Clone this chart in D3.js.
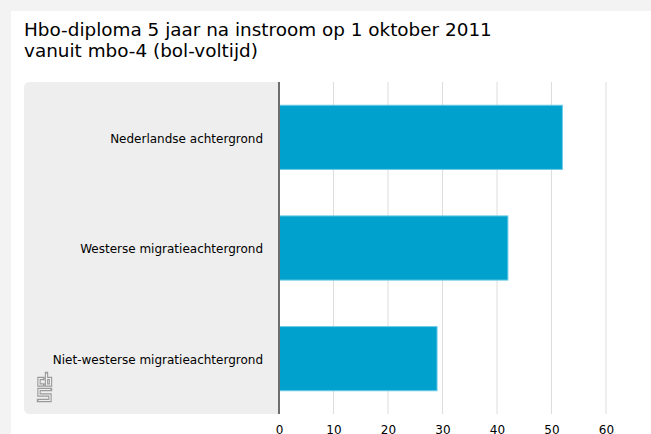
<!DOCTYPE html>
<html>
<head>
<meta charset="utf-8">
<script src="https://cdn.jsdelivr.net/npm/d3@7.9.0/dist/d3.min.js"></script>
<style>
  html, body { margin: 0; padding: 0; background: #f3f3f3; }
  svg { display: block; font-family: "DejaVu Sans", sans-serif; }
</style>
</head>
<body>
<svg id="chart" width="651" height="434"></svg>
<script>
const titleLines = ['Hbo-diploma 5 jaar na instroom op 1 oktober 2011', 'vanuit mbo-4 (bol-voltijd)'];
const categories = ['Nederlandse achtergrond', 'Westerse migratieachtergrond', 'Niet-westerse migratieachtergrond'];
const values = [52, 42, 29];
const tickValues = [0, 10, 20, 30, 40, 50, 60];

const svg = d3.select('#chart');

// white card
svg.append('rect')
  .attr('x', 11).attr('y', 11)
  .attr('width', 651).attr('height', 434)
  .attr('fill', '#ffffff');

svg.append('text')
  .attr('x', 24).attr('y', 36)
  .attr('font-size', 18.4)
  .attr('fill', '#000')
  .selectAll('tspan')
  .data(titleLines)
  .join('tspan')
  .attr('x', 24)
  .attr('dy', (d, i) => i === 0 ? 0 : 21)
  .text(d => d);

const plotLeft = 279, plotRight = 606, plotTop = 82, plotBottom = 414;

const x = d3.scaleLinear().domain([0, 60]).range([plotLeft, plotRight]);
const y = d3.scaleBand().domain(categories).range([plotTop, plotBottom]).paddingInner(0.42).paddingOuter(0.21);

// label panel
svg.append('path')
  .attr('d', `M${plotLeft},${plotTop} H30 Q24,${plotTop} 24,${plotTop + 6} V${plotBottom - 6} Q24,${plotBottom} 30,${plotBottom} H${plotLeft} Z`)
  .attr('fill', '#eeeeee');

// gridlines
svg.append('g')
  .selectAll('line')
  .data(tickValues.filter(d => d > 0))
  .join('line')
  .attr('x1', d => x(d)).attr('x2', d => x(d))
  .attr('y1', plotTop).attr('y2', plotBottom)
  .attr('stroke', '#dddddd')
  .attr('stroke-width', 1);

// bars
svg.append('g')
  .selectAll('rect')
  .data(values)
  .join('rect')
  .attr('x', x(0))
  .attr('y', (d, i) => y(categories[i]))
  .attr('width', d => x(d) - x(0))
  .attr('height', y.bandwidth())
  .attr('fill', '#00a1cd')
  .attr('stroke', '#6ccbe8')
  .attr('stroke-width', 1);

// zero line
svg.append('line')
  .attr('x1', x(0)).attr('x2', x(0))
  .attr('y1', plotTop).attr('y2', plotBottom)
  .attr('stroke', '#6e6e6e')
  .attr('stroke-width', 2);

// category labels
svg.append('g')
  .selectAll('text')
  .data(categories)
  .join('text')
  .attr('x', 263)
  .attr('y', d => y(d) + y.bandwidth() / 2 + 1)
  .attr('dy', '0.35em')
  .attr('text-anchor', 'end')
  .attr('font-size', 12)
  .attr('fill', '#000')
  .text(d => d);

// x axis labels
const xAxis = d3.axisBottom(x).tickValues(tickValues).tickSize(0).tickPadding(0);
const gx = svg.append('g')
  .attr('transform', `translate(0,${plotBottom + 11})`)
  .call(xAxis);
gx.select('.domain').remove();
gx.selectAll('text')
  .attr('font-family', '"DejaVu Sans", sans-serif')
  .attr('font-size', 12)
  .attr('fill', '#000');

// cbs logo, drawn as outlined strokes
const logoPaths = [
  'M43,378.5 H39 V385 H43',
  'M46.5,373.5 V385 H50.5 V378.5 H46.5',
  'M50.5,389.5 H39 V395 H50 V400.5 H38.5'
];
const logo = svg.append('g').attr('fill', 'none');
logo.selectAll('path.outer')
  .data(logoPaths)
  .join('path')
  .attr('class', 'outer')
  .attr('d', d => d)
  .attr('stroke', '#9a9a9a')
  .attr('stroke-width', 3.4)
  .attr('stroke-linecap', 'square');
logo.selectAll('path.inner')
  .data(logoPaths)
  .join('path')
  .attr('class', 'inner')
  .attr('d', d => d)
  .attr('stroke', '#eeeeee')
  .attr('stroke-width', 1.2)
  .attr('stroke-linecap', 'butt');
</script>
</body>
</html>
